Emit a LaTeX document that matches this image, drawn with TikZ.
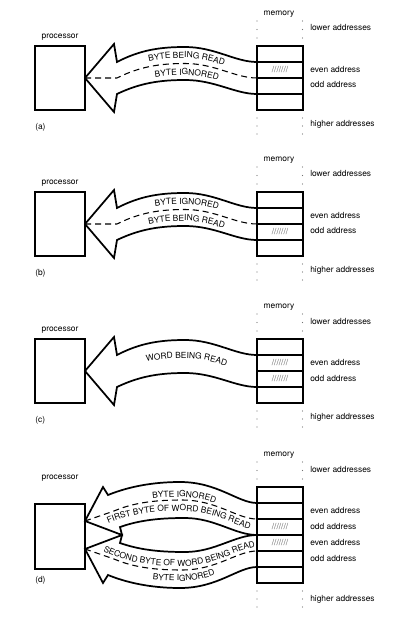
\documentclass[tikz,border=0pt]{standalone}
\usepackage{fontspec}
\setmainfont{TeX Gyre Heros}
\usetikzlibrary{decorations.text}
\newcommand{\lblfont}{\fontsize{6.3}{7}\selectfont}
\begin{document}
\begin{tikzpicture}[x=0.75pt,y=-0.75pt,
  lbl/.style={font=\lblfont, inner sep=0pt},
  lbll/.style={lbl, anchor=west},
  box/.style={draw, line width=1.35pt},
  bigarrow/.style={draw, line width=1.3pt, line join=miter, fill=white},
  dashln/.style={line width=0.8pt, dash pattern=on 4.5pt off 3pt},
  hatch/.style={lbl, text=black!65},
  memdot/.style={fill=black!55},
  alongtext/.style={decorate, decoration={text along path, text={|\lblfont|#1}, text align=center}}
]
\useasboundingbox (0,0) rectangle (407,623);

% ---------- panels (a), (b), (c): common parts ----------
\foreach \off/\lab in {0/a,146/b,293/c}{
 \begin{scope}[shift={(0,\off)}]
  \node[lbl] (proclbl\lab) at (60,37) {processor};
  \node[lbll] (panel\lab) at (35,127) {(\lab)};
  \draw[box] (35,46) rectangle (85,110);
  \node[lbl] (memlbl\lab) at (279,14) {memory};
  \draw[box] (257,46) rectangle (303,110);
  \draw[box] (257,62) -- (303,62) (257,78) -- (303,78) (257,94) -- (303,94);
  \foreach \yy in {21,29.5,38,118,126,134}{
    \fill[memdot] (257,\yy) circle (0.45pt);
    \fill[memdot] (302.5,\yy) circle (0.45pt);
  }
  \node[lbll] (low\lab) at (310,28) {lower addresses};
  \node[lbll] (even\lab) at (310,69.5) {even address};
  \node[lbll] (odd\lab) at (310,85) {odd address};
  \node[lbll] (high\lab) at (310,124) {higher addresses};
  \draw[bigarrow] (85,78) -- (114,44) -- (117,62)
     .. controls (140,50) and (160,47) .. (185,47)
     .. controls (215,47) and (235,62) .. (257,62) -- (257,94)
     .. controls (235,94) and (215,80) .. (185,80)
     .. controls (160,80) and (140,83) .. (117,94) -- (114,112) -- cycle;
 \end{scope}
}

% ---------- panel (a) ----------
\draw[dashln] (85,78) -- (117,78) .. controls (140,66.5) and (160,63.5) .. (185,63.5)
   .. controls (215,63.5) and (235,78) .. (257,78);
\path[alongtext={BYTE BEING READ}] (117,73) .. controls (140,61) and (160,58) .. (185,58)
   .. controls (215,58) and (235,73) .. (257,73);
\path[alongtext={BYTE IGNORED}] (117,90) .. controls (140,78) and (160,75) .. (185,75)
   .. controls (215,75) and (235,90) .. (257,90);
\node[hatch] (hatcha) at (280,70) {///////};

% ---------- panel (b) ----------
\begin{scope}[shift={(0,146)}]
\draw[dashln] (85,78) -- (117,78) .. controls (140,66.5) and (160,63.5) .. (185,63.5)
   .. controls (215,63.5) and (235,78) .. (257,78);
\path[alongtext={BYTE IGNORED}] (117,73) .. controls (140,61) and (160,58) .. (185,58)
   .. controls (215,58) and (235,73) .. (257,73);
\path[alongtext={BYTE BEING READ}] (117,90) .. controls (140,78) and (160,75) .. (185,75)
   .. controls (215,75) and (235,90) .. (257,90);
\node[hatch] (hatchb) at (280,86) {///////};
\end{scope}

% ---------- panel (c) ----------
\begin{scope}[shift={(0,293)}]
\path[alongtext={WORD BEING READ}] (117,79.5) .. controls (140,68) and (160,65) .. (185,65)
   .. controls (215,65) and (235,79.5) .. (257,79.5);
\node[hatch] (hatchc1) at (280,70) {///////};
\node[hatch] (hatchc2) at (280,86) {///////};
\end{scope}

% ---------- panel (d) ----------
\node[lbl] (procllbd) at (60,478) {processor};
\node[lbll] (paneld) at (35,580) {(d)};
\draw[box] (35,504) rectangle (85,569);
\node[lbl] (memlbld) at (279,455) {memory};
\draw[box] (257,487) rectangle (303,583);
\draw[box] (257,503) -- (303,503) (257,519) -- (303,519) (257,535) -- (303,535)
   (257,551) -- (303,551) (257,567) -- (303,567);
\foreach \yy in {462,470.5,479,591,599,607}{
  \fill[memdot] (257,\yy) circle (0.45pt);
  \fill[memdot] (302.5,\yy) circle (0.45pt);
}
\node[lbll] (lowd) at (310,469) {lower addresses};
\node[lbll] (evend1) at (310,510.5) {even address};
\node[lbll] (oddd1) at (310,526.5) {odd address};
\node[lbll] (evend2) at (310,542.5) {even address};
\node[lbll] (oddd2) at (310,558.5) {odd address};
\node[lbll] (highd) at (310,599) {higher addresses};
\node[hatch] (hatchd1) at (280,527) {///////};
\node[hatch] (hatchd2) at (280,543) {///////};

% upper arrow
\draw[bigarrow] (85,521) -- (103,487) -- (108,495)
   .. controls (130,486) and (155,482) .. (180,482)
   .. controls (218,482) and (238,503) .. (257,503) -- (257,535)
   .. controls (235,535) and (215,518) .. (185,518)
   .. controls (160,518) and (140,520) .. (120,527) -- (122,535) -- cycle;
% lower arrow
\draw[bigarrow] (85,549) -- (103,583) -- (108,575)
   .. controls (130,584) and (155,588) .. (180,588)
   .. controls (218,588) and (238,567) .. (257,567) -- (257,535)
   .. controls (235,535) and (215,552) .. (185,552)
   .. controls (160,552) and (140,550) .. (120,543) -- (122,535) -- cycle;
\draw[dashln] (85,521) -- (114,511) .. controls (135,502) and (158,500) .. (182,500)
   .. controls (217,500) and (237,519) .. (257,519);
\draw[dashln] (85,549) -- (114,559) .. controls (135,568) and (158,570) .. (182,570)
   .. controls (217,570) and (237,551) .. (257,551);
\path[alongtext={BYTE IGNORED}] (110,510) .. controls (132,500) and (157,497) .. (180,497)
   .. controls (217,497) and (237,517) .. (257,517);
\path[alongtext={FIRST BYTE OF WORD BEING READ}] (97,529) .. controls (128,512) and (158,511) .. (182,511)
   .. controls (217,511) and (240,530) .. (262,531);
\path[alongtext={SECOND BYTE OF WORD BEING READ}] (97,548) .. controls (128,565) and (158,566) .. (182,566)
   .. controls (217,566) and (240,547) .. (262,546);
\path[alongtext={BYTE IGNORED}] (110,568) .. controls (132,578) and (157,581) .. (180,581)
   .. controls (217,581) and (237,561) .. (257,561);
\end{tikzpicture}
\end{document}
